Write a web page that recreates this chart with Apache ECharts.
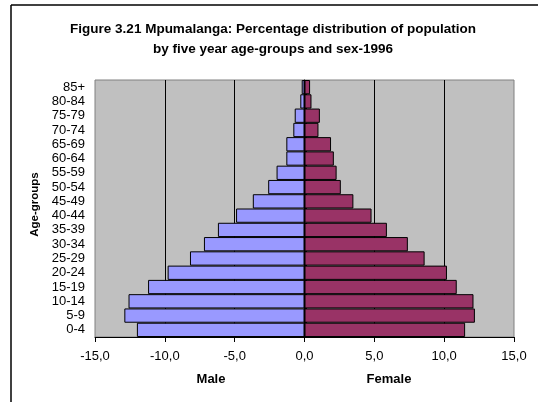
<!DOCTYPE html>
<html>
<head>
<meta charset="utf-8">
<script src="https://cdn.jsdelivr.net/npm/echarts@6/dist/echarts.min.js"></script>
<style>
  html, body { margin: 0; padding: 0; background: #fff; }
  #chart { width: 538px; height: 402px; }
</style>
</head>
<body>
<div id="chart"></div>
<script>
// age groups, bottom to top
const ageGroups = ['0-4', '5-9', '10-14', '15-19', '20-24', '25-29', '30-34', '35-39', '40-44',
  '45-49', '50-54', '55-59', '60-64', '65-69', '70-74', '75-79', '80-84', '85+'];
// male shown as negative percentages
const maleValues = [-12.0, -12.9, -12.6, -11.2, -9.8, -8.2, -7.2, -6.2, -4.9,
  -3.7, -2.6, -2.0, -1.3, -1.3, -0.8, -0.7, -0.3, -0.2];
const femaleValues = [11.5, 12.2, 12.1, 10.9, 10.2, 8.6, 7.4, 5.9, 4.8,
  3.5, 2.6, 2.3, 2.1, 1.9, 1.0, 1.1, 0.5, 0.4];
const xTicks = [-15, -10, -5, 0, 5, 10, 15];

const font = 'Liberation Sans, Arial, sans-serif';
const chart = echarts.init(document.getElementById('chart'));

const option = {
  animation: false,
  title: {
    text: 'Figure 3.21 Mpumalanga: Percentage distribution of population\nby five year age-groups and sex-1996',
    left: 268,
    textAlign: 'center',
    top: 14,
    textStyle: { fontFamily: font, fontSize: 13.5, fontWeight: 'bold', color: '#000', lineHeight: 20 }
  },
  grid: {
    left: 95, right: 24, top: 80, bottom: 65,
    show: true,
    backgroundColor: '#c0c0c0',
    borderColor: '#808080',
    borderWidth: 1
  },
  xAxis: {
    type: 'value',
    min: xTicks[0],
    max: xTicks[xTicks.length - 1],
    interval: 5,
    axisLine: { show: true, onZero: false, lineStyle: { color: '#000', width: 1 } },
    axisTick: { show: true, length: 5, lineStyle: { color: '#000' } },
    axisLabel: {
      margin: 13,
      color: '#000', fontFamily: font, fontSize: 13,
      formatter: function (v) { return v.toFixed(1).replace('.', ','); }
    },
    splitLine: { show: true, showMinLine: false, showMaxLine: false, lineStyle: { color: '#000', width: 1 } }
  },
  yAxis: [
    {
      type: 'category',
      data: ageGroups,
      position: 'left',
      axisLine: { show: false },
      axisTick: { show: false },
      axisLabel: { interval: 0, margin: 10, color: '#000', fontFamily: font, fontSize: 13 },
      name: 'Age-groups',
      nameLocation: 'middle',
      nameRotate: 90,
      nameGap: 50,
      nameTextStyle: { fontFamily: font, fontSize: 11.5, fontWeight: 'bold', color: '#000', padding: [0, 0, 0, 8] }
    },
    {
      // tick marks along the zero line
      type: 'category',
      data: ageGroups,
      position: 'right',
      offset: -210,
      z: 5,
      axisLine: { show: true, onZero: false, lineStyle: { color: '#000' } },
      axisTick: { show: true, interval: 0, length: 3, lineStyle: { color: '#000' } },
      axisLabel: { show: false }
    }
  ],
  series: [
    {
      name: 'Male',
      type: 'bar',
      data: maleValues,
      barGap: '-100%',
      barCategoryGap: 0,
      itemStyle: { color: '#9999ff', borderColor: '#000', borderWidth: 1 }
    },
    {
      name: 'Female',
      type: 'bar',
      data: femaleValues,
      barGap: '-100%',
      barCategoryGap: 0,
      itemStyle: { color: '#993366', borderColor: '#000', borderWidth: 1 }
    }
  ],
  graphic: [
    { type: 'line', shape: { x1: 11, y1: 5, x2: 538, y2: 5 }, style: { stroke: '#000', lineWidth: 1.5 } },
    { type: 'line', shape: { x1: 11, y1: 5, x2: 11, y2: 402 }, style: { stroke: '#000', lineWidth: 1.5 } },
    { type: 'text', x: 211, y: 379, style: { text: 'Male', x: 0, y: 0, align: 'center', verticalAlign: 'middle', font: 'bold 13px ' + font, fill: '#000' } },
    { type: 'text', x: 389, y: 379, style: { text: 'Female', x: 0, y: 0, align: 'center', verticalAlign: 'middle', font: 'bold 13px ' + font, fill: '#000' } }
  ]
};

chart.setOption(option);
</script>
</body>
</html>
